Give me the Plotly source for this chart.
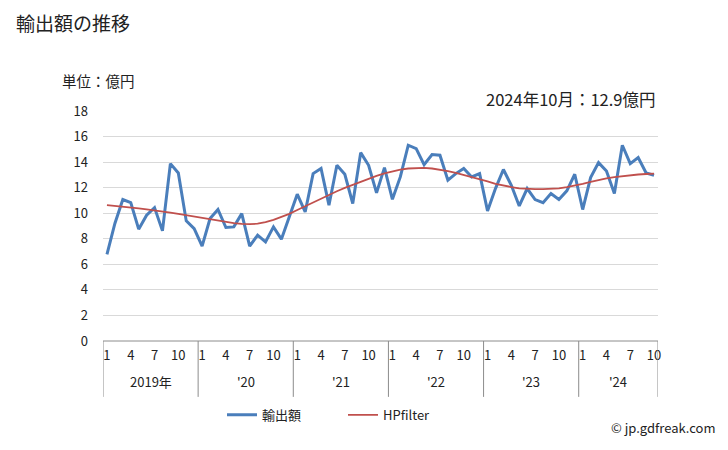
import plotly.graph_objects as go

# ? Monthly export values (億円), Jan 2019 .. Oct 2024.
years = ["2019年", "'20", "'21", "'22", "'23", "'24"]
month_ticks = [1, 4, 7, 10]

exports = [
    6.77, 9.2, 11.07, 10.83, 8.75, 9.84, 10.44, 8.62, 13.88, 13.15, 9.4, 8.8,
    7.42, 9.58, 10.29, 8.88, 8.93, 9.97, 7.42, 8.28, 7.76, 8.93, 7.97, 9.71,
    11.49, 10.1, 13.1, 13.5, 10.63, 13.75, 13.05, 10.76, 14.74, 13.75, 11.59, 13.57,
    11.09, 12.84, 15.32, 15.06, 13.8, 14.59, 14.54, 12.58, 13.1, 13.5, 12.84, 13.1,
    10.18, 11.93, 13.42, 12.19, 10.57, 11.93, 11.07, 10.83, 11.54, 11.07, 11.75, 13.05,
    10.29, 12.79, 13.96, 13.31, 11.54, 15.32, 13.88, 14.35, 13.15, 12.97,
]

hpfilter = [
    10.63, 10.58, 10.52, 10.45, 10.38, 10.3, 10.23, 10.15, 10.05, 9.95, 9.85, 9.75,
    9.62, 9.5, 9.4, 9.3, 9.22, 9.16, 9.14, 9.18, 9.3, 9.48, 9.7, 9.95,
    10.25, 10.55, 10.85, 11.15, 11.45, 11.72, 11.98, 12.22, 12.48, 12.72, 12.92, 13.12,
    13.3, 13.42, 13.5, 13.55, 13.55, 13.5, 13.42, 13.3, 13.15, 13.0, 12.85, 12.68,
    12.5, 12.3, 12.15, 12.05, 11.95, 11.9, 11.88, 11.88, 11.9, 11.95, 12.05, 12.15,
    12.3, 12.45, 12.6, 12.72, 12.82, 12.9, 12.97, 13.03, 13.07, 13.1,
]

FONT = "Noto Sans CJK JP"
AXIS_GREY = "#8c8c8c"
TEXT = "#222"

# ? The page body has an 8px margin, so the figure is drawn 8px smaller
# ? and every target pixel position is shifted by 8.
OFF = 8
W, H = 728 - OFF, 450 - OFF
PL, PR, PT, PB = 103 - OFF, 658 - OFF, 110.5 - OFF, 341 - OFF

x = list(range(len(exports)))

# ? Month tick positions / labels.
tickvals, ticktext = [], []
for yi in range(len(years)):
    for m in month_ticks:
        idx = yi * 12 + m - 1
        if idx < len(exports):
            tickvals.append(idx)
            ticktext.append(str(m))

fig = go.Figure()
fig.add_trace(go.Scatter(
    x=x, y=exports, mode="lines", name="輸出額",
    line=dict(color="#4a7ebb", width=3),
))
fig.add_trace(go.Scatter(
    x=x, y=hpfilter, mode="lines", name="HPfilter",
    line=dict(color="#c0504d", width=1.8),
))

def px(xp, yp):
    # ? page pixel -> paper coords
    return (xp - OFF - PL) / (PR - PL), (PB - (yp - OFF)) / (PB - PT)

# ? Year boxes under the axis.
x_end = len(exports) - 0.5
bounds = [yi * 12 - 0.5 for yi in range(len(years))] + [x_end]
_, box_bottom = px(0, 397)
for b in bounds:
    fig.add_shape(type="line", xref="x", yref="paper",
                  x0=b, x1=b, y0=0, y1=box_bottom,
                  line=dict(color=AXIS_GREY, width=1))
fig.add_shape(type="line", xref="x", yref="paper",
              x0=-0.5, x1=x_end, y0=0, y1=0,
              line=dict(color=AXIS_GREY, width=1))
_, year_y = px(0, 382)
for yi, label in enumerate(years):
    mid = (bounds[yi] + bounds[yi + 1]) / 2
    fig.add_annotation(x=mid, y=year_y, xref="x", yref="paper",
                       text=label, showarrow=False, yanchor="middle",
                       font=dict(size=13, color=TEXT))

for text, (xp, yp), anchor, size in [
    ("輸出額の推移", (14, 22), "left", 19),
    ("単位：億円", (60, 80), "left", 14.5),
    ("2024年10月：12.9億円", (658, 98), "right", 16.5),
    ("© jp.gdfreak.com", (718, 428), "right", 13),
]:
    ax, ay = px(xp, yp)
    fig.add_annotation(x=ax, y=ay, xref="paper", yref="paper", text=text,
                       showarrow=False, xanchor=anchor, yanchor="middle",
                       font=dict(size=size, color=TEXT))

leg_x, leg_y = px(222, 415)

fig.update_layout(
    width=W, height=H,
    margin=dict(l=PL, r=W - PR, t=PT, b=H - PB, autoexpand=False),
    paper_bgcolor="white", plot_bgcolor="white",
    font=dict(family=FONT, size=13, color=TEXT),
    showlegend=True,
    legend=dict(orientation="h", x=leg_x, y=leg_y, xanchor="left", yanchor="middle",
                entrywidth=76, font=dict(size=13), itemwidth=30),
    xaxis=dict(range=[-0.5, x_end], tickvals=tickvals, ticktext=ticktext,
               showgrid=False, zeroline=False, showline=False, ticks="",
               ticklabelstandoff=5, tickfont=dict(size=13)),
    yaxis=dict(range=[0, 18], dtick=2, showgrid=True, gridcolor="#d9d9d9",
               zeroline=False, showline=False, ticks="", ticklabelstandoff=14,
               tickfont=dict(size=13)),
)

fig.write_html("out.html")
